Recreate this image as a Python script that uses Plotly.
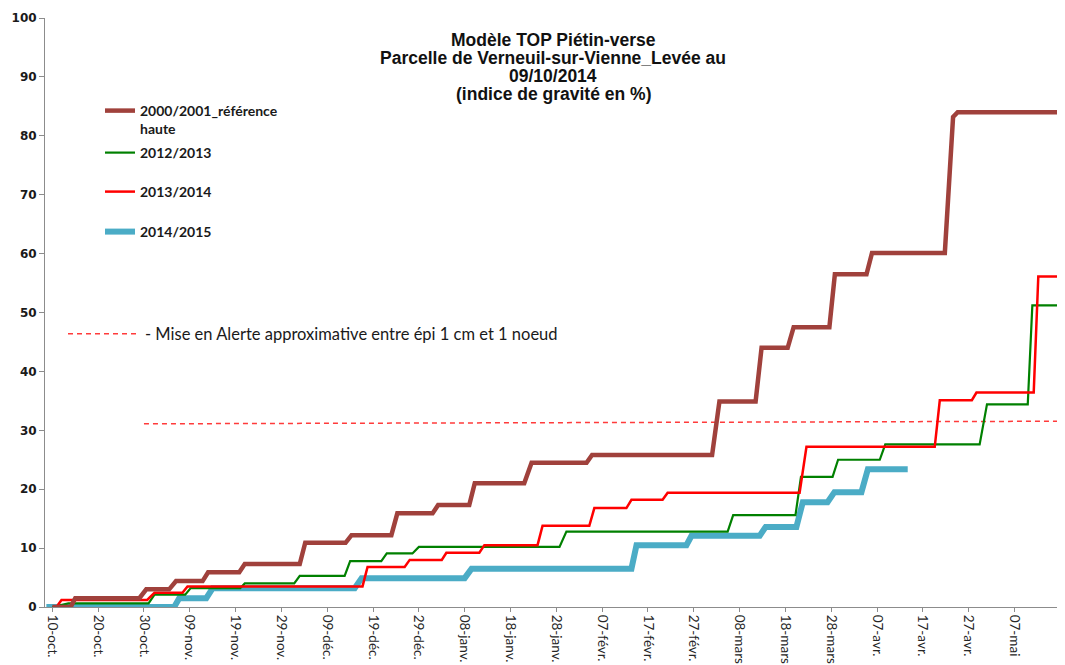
import pandas as pd
import plotly.graph_objects as go

# ---- data (x = days since 10-oct., y = indice de gravité %) ----
season_start = "2011-10-10"

brown_days = [0, 4, 5, 19, 20.5, 25.5, 27, 32.8, 34, 40.8, 42, 54, 55.2, 64, 65.3, 74, 75.3,
              83, 84.2, 91, 92.2, 103, 104.6, 116.6, 117.8, 144, 145.6, 153.5, 154.8, 160.5,
              161.8, 169.6, 170.8, 177.7, 178.9, 194.8, 196.6, 197.6, 219.5]
brown_vals = [0, 0, 1.5, 1.5, 3.0, 3.0, 4.4, 4.4, 5.9, 5.9, 7.3, 7.3, 10.9, 10.9, 12.2, 12.2, 15.9,
              15.9, 17.3, 17.3, 21.0, 21.0, 24.5, 24.5, 25.8, 25.8, 34.9, 34.9, 44.0, 44.0,
              47.5, 47.5, 56.5, 56.5, 60.1, 60.1, 83.2, 84.0, 84.0]

green_days = [0, 3.5, 21, 22.3, 29, 30.2, 41, 42, 52.8, 54, 63.8, 65, 71.8, 73, 78.6, 80, 110.7,
              112.2, 147.4, 148.6, 162.2, 163.4, 170.3, 171.5, 180.6, 181.8, 202.4, 204, 212.9,
              213.9, 219.5]
green_vals = [0, 0.6, 0.6, 2.1, 2.1, 3.2, 3.2, 4.0, 4.0, 5.3, 5.3, 7.8, 7.8, 9.1, 9.1, 10.2, 10.2,
              12.8, 12.8, 15.6, 15.6, 22.1, 22.1, 25.0, 25.0, 27.6, 27.6, 34.4, 34.4,
              51.2, 51.2]

red_days = [0.5, 0.9, 2, 20.7, 22.3, 28.4, 29.5, 67.7, 68.8, 76.9, 78, 85, 86, 93.2, 94.3, 105.9,
            107, 117.2, 118.3, 125.3, 126.4, 133.2, 134.3, 163.1, 164.6, 192.6, 193.7, 200.7,
            201.7, 214.2, 215.2, 219.5]
red_vals = [0, 0, 1.2, 1.2, 2.4, 2.4, 3.5, 3.5, 6.8, 6.8, 8.0, 8.0, 9.2, 9.2, 10.5, 10.5,
            13.8, 13.8, 16.8, 16.8, 18.2, 18.2, 19.4, 19.4, 27.2, 27.2, 35.1, 35.1,
            36.4, 36.4, 56.1, 56.1]

blue_days = [-1.3, 26.6, 27.7, 33.6, 35, 66, 67.5, 90, 91.5, 126.4, 127.5, 138.4, 139.5, 154.4,
             155.7, 162.4, 163.8, 169.2, 170.7, 176.6, 178, 186.7]
blue_vals = [0, 0, 1.5, 1.5, 3.2, 3.2, 4.9, 4.9, 6.5, 6.5, 10.5, 10.5, 12.1, 12.1,
             13.6, 13.6, 17.8, 17.8, 19.5, 19.5, 23.4, 23.4]

alert_days = [20, 225]
alert_vals = [31.1, 31.55]

tick_labels = ["10-oct.", "20-oct.", "30-oct.", "09-nov.", "19-nov.", "29-nov.", "09-déc.",
               "19-déc.", "29-déc.", "08-janv.", "18-janv.", "28-janv.", "07-févr.", "17-févr.",
               "27-févr.", "08-mars", "18-mars", "28-mars", "07-avr.", "17-avr.", "27-avr.",
               "07-mai"]

names = ["<b>2000/2001_référence<br>haute</b>", "<b>2012/2013</b>", "<b>2013/2014</b>",
         "<b>2014/2015</b>"]
alert_name = "- Mise en Alerte approximative entre épi 1 cm et 1 noeud"

title_lines = ["Modèle TOP Piétin-verse", "Parcelle de Verneuil-sur-Vienne_Levée au",
               "09/10/2014", "(indice de gravité en %)"]

# ---- helpers ----
base = pd.Timestamp(season_start)


def to_dates(days):
    return [base + pd.to_timedelta(d, unit="D") for d in days]


# page has an 8px body margin: figure drawn 8px in from the window edge
OFF = 8
W, H = 1065 - OFF, 665 - OFF
# plot area in page pixels
PX0, PX1, PY0, PY1 = 45, 1058, 18, 607
L, T = PX0 - OFF, PY0 - OFF
R, B = W - (PX1 - OFF), H - (PY1 - OFF)


def px_to_paper(xp, yp):
    return (xp - PX0) / (PX1 - PX0), (PY1 - yp) / (PY1 - PY0)


fig = go.Figure()

fig.add_trace(go.Scatter(x=to_dates(alert_days), y=alert_vals, mode="lines", name=alert_name,
                         line=dict(color="#ff3b3b", width=1.5, dash="5px,4px"), legend="legend5"))
fig.add_trace(go.Scatter(x=to_dates(blue_days), y=blue_vals, mode="lines", name=names[3],
                         line=dict(color="#4bacc6", width=6), legend="legend4"))
fig.add_trace(go.Scatter(x=to_dates(green_days), y=green_vals, mode="lines", name=names[1],
                         line=dict(color="#008000", width=2.2), legend="legend2"))
fig.add_trace(go.Scatter(x=to_dates(red_days), y=red_vals, mode="lines", name=names[2],
                         line=dict(color="#ff0000", width=2.5), legend="legend3"))
fig.add_trace(go.Scatter(x=to_dates(brown_days), y=brown_vals, mode="lines", name=names[0],
                         line=dict(color="#a0413c", width=4.5), legend="legend"))

tickvals = [base + pd.Timedelta(days=10 * k) for k in range(len(tick_labels))]

legend_font = dict(family="Lato", size=14, color="#1a1a1a")


def leg(xpx, ypx, **kw):
    x, y = px_to_paper(xpx, ypx)
    d = dict(xref="paper", yref="paper", x=x, y=y,
             xanchor="left", yanchor="middle", bgcolor="rgba(0,0,0,0)", borderwidth=0,
             font=legend_font)
    d.update(kw)
    return d


fig.update_layout(
    width=W, height=H,
    margin=dict(l=L, r=R, t=T, b=B, autoexpand=False),
    paper_bgcolor="white", plot_bgcolor="white",
    showlegend=True,
    legend=leg(100, 120, valign="top"),
    legend2=leg(100, 153),
    legend3=leg(100, 192),
    legend4=leg(100, 232),
    legend5=leg(63, 334, itemwidth=72,
                font=dict(family="Lato", size=16.5, color="#1a1a1a")),
    xaxis=dict(type="date", automargin=False,
               range=[base - pd.Timedelta(days=1.6), base + pd.Timedelta(days=219.5)],
               tickvals=tickvals, ticktext=tick_labels, tickangle=90,
               showgrid=False, zeroline=False, showline=True, linecolor="#8c8c8c", linewidth=1,
               ticks="outside", ticklen=4, tickcolor="#8c8c8c",
               tickfont=dict(family="Lato", size=13.5, color="#262626")),
    yaxis=dict(range=[0, 100], dtick=10, automargin=False, showgrid=False, zeroline=False,
               showline=True, linecolor="#8c8c8c", linewidth=1, ticks="outside", ticklen=5,
               tickcolor="#8c8c8c",
               tickfont=dict(family="DejaVu Sans", size=12, color="#1a1a1a", weight="bold")),
)

title_y_px = [40, 58, 76, 94]
for txt, ypx in zip(title_lines, title_y_px):
    x, y = px_to_paper(553, ypx)
    fig.add_annotation(text="<b>" + txt + "</b>", xref="paper", yref="paper",
                       x=x, y=y, xanchor="center", yanchor="middle", showarrow=False,
                       font=dict(family="Liberation Sans", size=17.5, color="#111111"))

fig.write_html("out.html")
